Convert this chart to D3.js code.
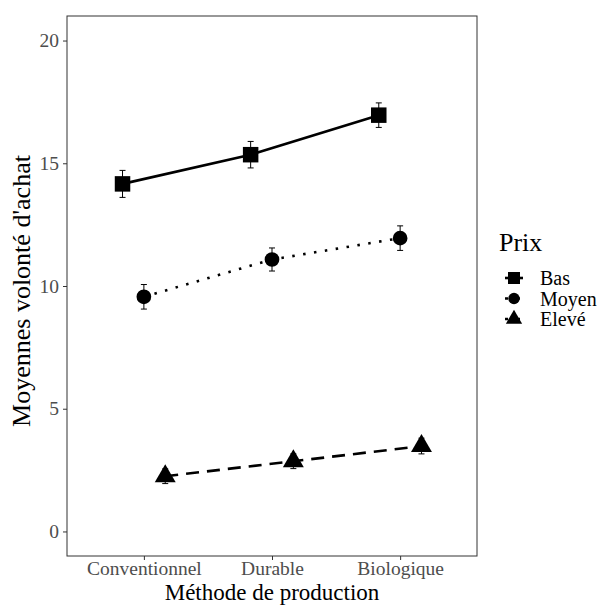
<!DOCTYPE html>
<html>
<head>
<meta charset="utf-8">
<script src="https://cdn.jsdelivr.net/npm/d3@7"></script>
<style>
  body { margin: 0; background: #fff; }
  text { font-family: "Liberation Serif", "DejaVu Serif", serif; }
</style>
</head>
<body>
<svg id="chart" width="598" height="605"></svg>
<script>
// Data
const methods = ['Conventionnel', 'Durable', 'Biologique'];
const prices = ['Bas', 'Moyen', 'Elevé'];
const meansBas = [14.16, 15.35, 16.96];
const meansMoyen = [9.56, 11.08, 11.95];
const meansEleve = [2.25, 2.86, 3.48];
const errBas = [0.55, 0.54, 0.5];
const errMoyen = [0.5, 0.47, 0.5];
const errEleve = [0.3, 0.3, 0.32];
const yTicks = [0, 5, 10, 15, 20];

const series = [
  { key: 'Bas', means: meansBas, errs: errBas, dash: null, shape: d3.symbolSquare, size: 240 },
  { key: 'Moyen', means: meansMoyen, errs: errMoyen, dash: '2.5,8.5', shape: d3.symbolCircle, size: 170 },
  { key: 'Elevé', means: meansEleve, errs: errEleve, dash: '13,8', shape: d3.symbolTriangle, size: 190 }
];

// Layout
const margin = { top: 16, right: 121, bottom: 49, left: 67 };
const width = 598 - margin.left - margin.right,
    height = 605 - margin.top - margin.bottom;

const svg = d3.select('#chart');
const g = svg.append('g').attr('transform', `translate(${margin.left},${margin.top})`);

// Scales
const xScale = d3.scaleLinear().domain([0.4, 3.6]).range([0, width]);
const yScale = d3.scaleLinear().domain([-1, 21]).range([height, 0]);
const dodge = d3.scaleOrdinal().domain(prices).range([-1 / 6, 0, 1 / 6]);
const xPos = (i, key) => xScale(i + 1 + dodge(key));

// Axes
const xAxis = d3.axisBottom(xScale)
    .tickValues([1, 2, 3])
    .tickFormat(d => methods[d - 1])
    .tickSize(4).tickPadding(1);
const yAxis = d3.axisLeft(yScale)
    .tickValues(yTicks)
    .tickSize(4).tickPadding(4);

const xAxisG = g.append('g').attr('transform', `translate(0,${height})`).call(xAxis);
const yAxisG = g.append('g').call(yAxis);
[xAxisG, yAxisG].forEach(a => {
  a.select('.domain').remove();
  a.selectAll('line').attr('stroke', '#333').attr('stroke-width', 1);
  a.selectAll('text').attr('fill', '#4d4d4d').style('font-size', '19.5px')
    .style('font-family', '"Liberation Serif", serif');
});

// Panel border
g.append('rect')
    .attr('width', width).attr('height', height)
    .attr('fill', 'none').attr('stroke', '#333').attr('stroke-width', 1);

// Lines
const line = d3.line()
    .x(d => d.x)
    .y(d => yScale(d.v));

series.forEach(s => {
  const pts = s.means.map((v, i) => ({ x: xPos(i, s.key), v, e: s.errs[i] }));
  const sg = g.append('g').attr('class', 'series');

  sg.append('path')
      .attr('d', line(pts))
      .attr('fill', 'none')
      .attr('stroke', '#000')
      .attr('stroke-width', 2.6)
      .attr('stroke-dasharray', s.dash);

  // Error bars
  const eb = sg.selectAll('g.eb').data(pts).join('g').attr('class', 'eb');
  eb.append('line')
      .attr('x1', d => d.x).attr('x2', d => d.x)
      .attr('y1', d => yScale(d.v - d.e)).attr('y2', d => yScale(d.v + d.e))
      .attr('stroke', '#000').attr('stroke-width', 1);
  [1, -1].forEach(sign => {
    eb.append('line')
        .attr('x1', d => d.x - 3).attr('x2', d => d.x + 3)
        .attr('y1', d => yScale(d.v + sign * d.e)).attr('y2', d => yScale(d.v + sign * d.e))
        .attr('stroke', '#000').attr('stroke-width', 1);
  });

  // Points
  sg.selectAll('path.pt').data(pts).join('path')
      .attr('class', 'pt')
      .attr('transform', d => `translate(${d.x},${yScale(d.v)})`)
      .attr('d', d3.symbol().type(s.shape).size(s.size))
      .attr('fill', '#000');
});

// Axis titles
svg.append('text')
    .attr('x', margin.left + width / 2).attr('y', 600)
    .attr('text-anchor', 'middle')
    .style('font-size', '23px').attr('fill', '#000')
    .text('Méthode de production');

svg.append('text')
    .attr('transform', `translate(30,${margin.top + height / 2 + 5}) rotate(-90)`)
    .attr('text-anchor', 'middle')
    .style('font-size', '26px').attr('fill', '#000')
    .text("Moyennes volonté d'achat");

// Legend
const legend = svg.append('g').attr('transform', 'translate(499,0)');
legend.append('text')
    .attr('x', 0).attr('y', 251)
    .style('font-size', '26px').attr('fill', '#000')
    .text('Prix');

const items = legend.selectAll('g.item').data(series).join('g')
    .attr('class', 'item')
    .attr('transform', (d, i) => `translate(15,${278 + i * 20.5})`);
items.append('line')
    .attr('x1', -9).attr('x2', 9)
    .attr('stroke', '#000').attr('stroke-width', 2.6)
    .attr('stroke-dasharray', d => d.dash ? '3,3' : null);
items.append('path')
    .attr('d', d => d3.symbol().type(d.shape).size(d.size * 0.6)())
    .attr('fill', '#000');
items.append('text')
    .attr('x', 26).attr('dy', '0.35em')
    .style('font-size', '20px').attr('fill', '#000')
    .text(d => d.key);
</script>
</body>
</html>
